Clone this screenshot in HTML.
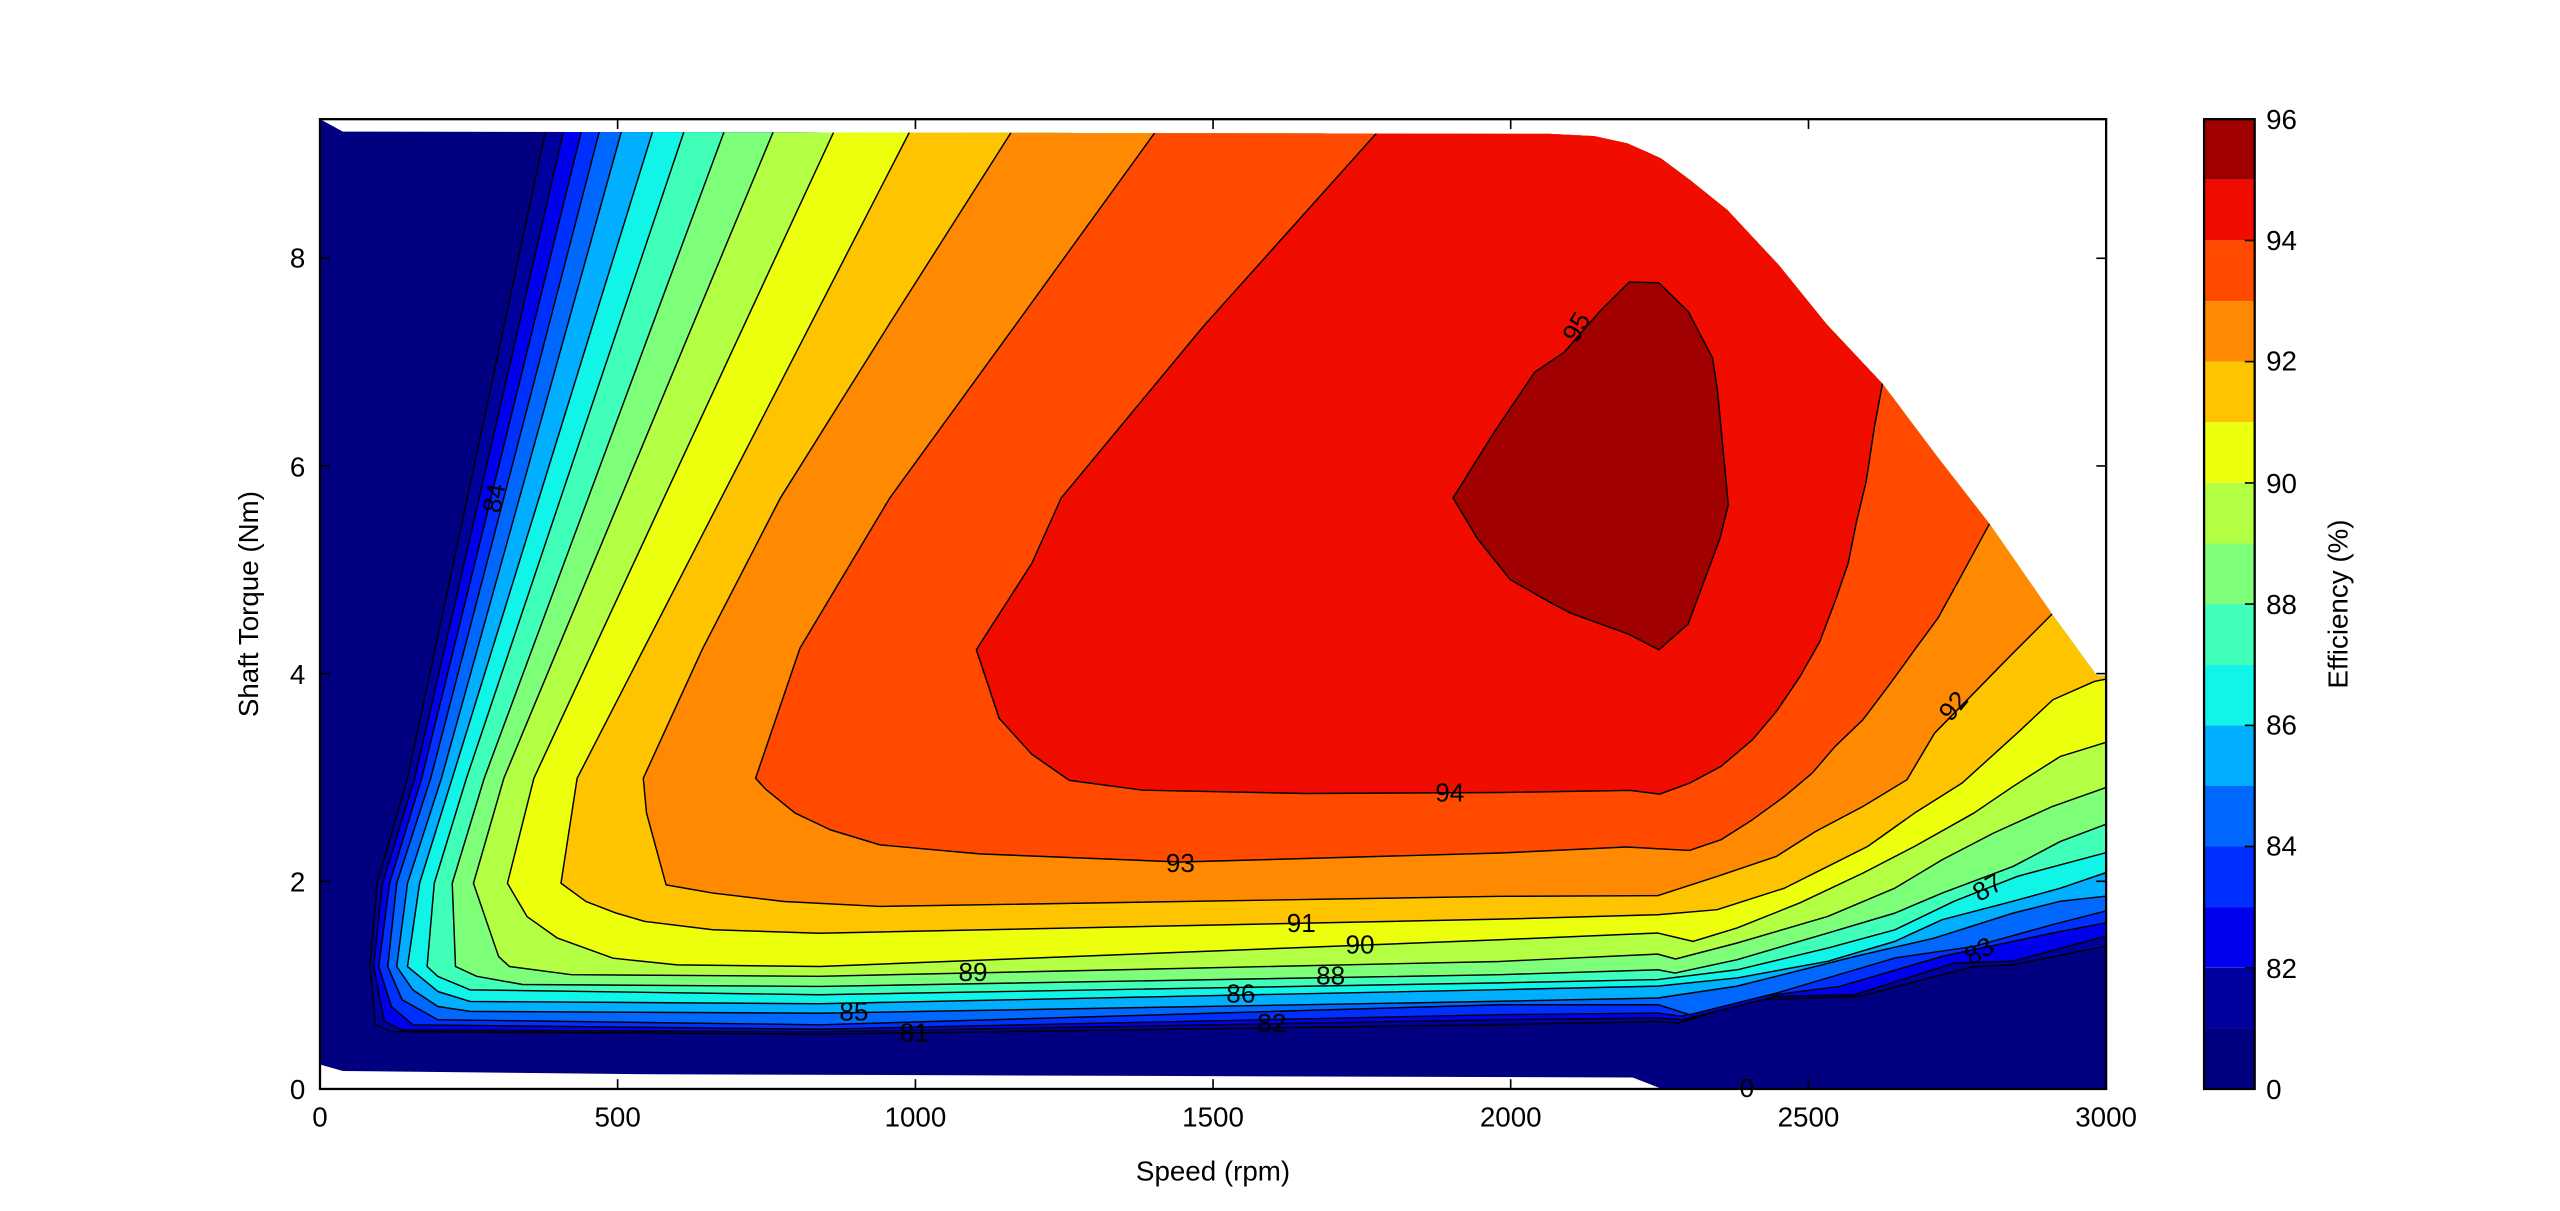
<!DOCTYPE html>
<html><head><meta charset="utf-8"><style>
html,body{margin:0;padding:0;background:#fff;}
svg{display:block;}
text{font-family:"Liberation Sans",sans-serif;}
</style></head><body>
<svg xmlns="http://www.w3.org/2000/svg" width="2560" height="1211" viewBox="0 0 1568 741.75" preserveAspectRatio="none">
<defs>
<clipPath id="dom"><polygon points="196,73 210,80.6 949,82 976.4,83.4 996.8,87.8 1017.2,96.9 1035.3,110.4 1058,128.6 1089.6,162.5 1119,198.8 1153,235 1187,280.3 1218.7,321 1257.2,376.6 1284.4,414 1290,414 1290,667 1018,667 1000,660 400,658 210,656 196,652"/></clipPath>
</defs>
<rect x="0" y="0" width="1568" height="741.75" fill="#fff"/>
<g clip-path="url(#dom)" stroke="#000" stroke-width="0.9" stroke-linejoin="round">
<rect x="190" y="60" width="1110" height="620" fill="#000080" stroke="none"/>
<polygon fill="#00009f" points="334,81 249.6,476.7 231,541 226.6,592 229.9,627.7 239.7,631.8 502,633.4 918.6,627.6 1015.4,625.6 1027.5,626.6 1076,612.3 1139,610.3 1209,592 1233,590.9 1289,579.7 1300,578 1300,70 334,70"/>
<polygon fill="#0000ef" points="345,81 254,476.7 234.3,541 228.8,592 235.4,625.7 246.3,630.8 502,632 918.6,624.6 1015.4,623.5 1030,624.6 1088,610.3 1136,609.3 1197,589.9 1233,588.8 1289,573.5 1300,571 1300,70 345,70"/>
<polygon fill="#0030ff" points="356,81 258.3,476.7 238.6,541 232,592 239.7,616.5 252.9,627.7 502,630.4 918.6,621.5 1015.4,620.5 1030,622.5 1064,612.3 1126.7,604.2 1189.6,585.8 1257,571.5 1289,565.4 1300,563 1300,70 356,70"/>
<polygon fill="#0068ff" points="367,81 263.8,476.7 243,541 237.5,592 246.3,612.4 268.2,624.6 502,627.7 918.6,615.4 1015.4,615.4 1035,621.5 1088,608.3 1160.6,586.8 1209,579.7 1257,566.4 1289,558.2 1300,556 1300,70 367,70"/>
<polygon fill="#00afff" points="380.5,81 270.4,476.7 249.6,541 243,592 252.9,606.3 268.2,616.5 287.9,619.5 502,620.6 918.6,613.3 1015.4,611.3 1064,604 1136.4,585.8 1184.8,574.6 1233,559.3 1262,552 1289,549 1300,547 1300,70 380.5,70"/>
<polygon fill="#10f5e8" points="399.6,81 277,476.7 257,541 249.6,592 268.2,607.3 287.9,613.4 502,614.8 918.6,606.2 1015.4,604 1064,599 1119.5,588.8 1160.6,576.6 1189.6,563.3 1233,552 1262,544 1289,534.8 1300,532 1300,70 399.6,70"/>
<polygon fill="#40ffb8" points="418.8,81 285.7,476.7 266,541 261.6,592 268.2,598.1 287.9,606.3 502,609.3 918.6,602 1015.4,600 1064,594 1119.5,580.7 1160.6,569.5 1197,552 1235.6,536.8 1262,529.7 1289,522.5 1300,520 1300,70 418.8,70"/>
<polygon fill="#7dff7a" points="443.4,81 296.6,476.7 277,541 279,592 292,598 320,603 502,604.2 918.6,597 1015.4,594 1026,596 1064,587.8 1119.5,571.5 1160.6,559.3 1189.6,547 1233,530.7 1262,515.4 1289,505.2 1300,502 1300,70 443.4,70"/>
<polygon fill="#b3ff44" points="473.5,81 308.6,476.7 290,541 305.4,585.9 312,592 350,597 502,598 918.6,588.9 1015.4,584.4 1026.3,587.4 1064,577.6 1119.5,561.3 1160.6,544 1189.6,526.6 1221,510.3 1257,494 1289,482.7 1300,479 1300,70 473.5,70"/>
<polygon fill="#ecff0c" points="510.6,81 327,476.7 310.8,541 322.8,561.4 341.4,574.6 375.5,586.9 414.7,591 502,592 918.6,575.6 1015.4,571.5 1037,576.6 1064,568.4 1102.5,553 1141,534.8 1172.7,518.4 1209,498 1233,481.7 1262,463.3 1289,455 1300,452 1300,70 510.6,70"/>
<polygon fill="#ffc400" points="557,81 353.5,476.7 343.6,541 359,552.2 377.5,559.3 395,564.4 436.6,569.5 502,571.6 918.6,563 1015.4,560.3 1051.7,557.2 1093,544 1119.5,530.7 1144,518.4 1172.7,498 1201.7,479.7 1235.6,449 1257.4,428.6 1282.8,417.4 1300,414 1300,70 557,70"/>
<polygon fill="#ff8900" points="619.4,81 545,198 478,305 430,398 394,476.7 396,498 408,542 436.6,547 480.3,552.2 539,555.2 918.6,549 1015.4,548.6 1051.7,536.8 1088,524.6 1112,509.3 1141,494 1168,477.6 1185,449 1209,424.5 1231,402 1257,376 1270,365 1300,365 1300,70 619.4,70"/>
<polygon fill="#ff4a00" points="707.5,81 625,195 545,305 490,397 462.8,476.7 469.4,483.8 487,498 508.7,508.3 539,517.5 600,523 723,528 918.6,522.5 996,518.8 1034.8,520.9 1054,514.4 1073.5,502 1093,487.8 1110,473.5 1124,457.2 1141,440.9 1158,418.4 1172.7,398 1187,378.6 1200,355 1219,320 1230,310 1300,310 1300,70 707.5,70"/>
<polygon fill="#f00d00" points="843.6,81 737,200 650,305 632,345 598,398 612,440 632,462 655,478 700,484 800,486 918.6,485.4 998.5,484.1 1016.6,486.4 1034.8,479.7 1054,469.5 1073.5,453 1088,435.8 1102.5,414.4 1114.6,393 1124.3,367.4 1132,345 1137,320 1143,295 1148,262 1153,235 1165,225 1300,225 1300,70 843.6,70"/>
<polygon fill="#a00000" points="998,172.7 1016,173.2 1034,190.8 1048.9,219.2 1052,239.5 1058.6,309.3 1053.4,330 1034,382.2 1016,398 998,388.6 961.7,375.4 949,368.7 925,355 905,330 890,305 915,265 940,228 958,215.8 979.8,190.8"/>
</g>
<g font-size="16" fill="#000" text-anchor="middle">
<text x="302" y="311" transform="rotate(-80 302 305)">84</text>
<text x="965" y="206" transform="rotate(-60 965 200)">95</text>
<text x="888" y="491">94</text>
<text x="723" y="534">93</text>
<text x="1196" y="438" transform="rotate(-50 1196 432)">92</text>
<text x="797" y="571">91</text>
<text x="833" y="584">90</text>
<text x="596" y="601">89</text>
<text x="815" y="603">88</text>
<text x="1217" y="549" transform="rotate(-30 1217 543)">87</text>
<text x="760" y="614">86</text>
<text x="523" y="625">85</text>
<text x="1212" y="588" transform="rotate(-30 1212 582)">83</text>
<text x="779" y="632">82</text>
<text x="560" y="638">81</text>
<text x="1070" y="672">0</text>
</g>
<rect x="196" y="73" width="1094" height="594" fill="none" stroke="#000" stroke-width="1.4"/>
<g stroke="#000" stroke-width="1">
<line x1="378.3" y1="667" x2="378.3" y2="661"/><line x1="378.3" y1="73" x2="378.3" y2="79"/>
<line x1="560.7" y1="667" x2="560.7" y2="661"/><line x1="560.7" y1="73" x2="560.7" y2="79"/>
<line x1="743" y1="667" x2="743" y2="661"/><line x1="743" y1="73" x2="743" y2="79"/>
<line x1="925.3" y1="667" x2="925.3" y2="661"/><line x1="925.3" y1="73" x2="925.3" y2="79"/>
<line x1="1107.7" y1="667" x2="1107.7" y2="661"/><line x1="1107.7" y1="73" x2="1107.7" y2="79"/>
<line x1="196" y1="539.8" x2="202" y2="539.8"/><line x1="1290" y1="539.8" x2="1284" y2="539.8"/>
<line x1="196" y1="412.6" x2="202" y2="412.6"/><line x1="1290" y1="412.6" x2="1284" y2="412.6"/>
<line x1="196" y1="285.4" x2="202" y2="285.4"/><line x1="1290" y1="285.4" x2="1284" y2="285.4"/>
<line x1="196" y1="158.2" x2="202" y2="158.2"/><line x1="1290" y1="158.2" x2="1284" y2="158.2"/>
</g>
<g font-size="17" fill="#000" text-anchor="middle">
<text x="196" y="690">0</text>
<text x="378.3" y="690">500</text>
<text x="560.7" y="690">1000</text>
<text x="743" y="690">1500</text>
<text x="925.3" y="690">2000</text>
<text x="1107.7" y="690">2500</text>
<text x="1290" y="690">3000</text>
</g>
<g font-size="17" fill="#000" text-anchor="end">
<text x="187" y="673">0</text>
<text x="187" y="546">2</text>
<text x="187" y="419">4</text>
<text x="187" y="292">6</text>
<text x="187" y="164">8</text>
</g>
<text x="743" y="723" font-size="17" text-anchor="middle">Speed  (rpm)</text>
<text x="158" y="370" font-size="17" text-anchor="middle" transform="rotate(-90 158 370)">Shaft Torque  (Nm)</text>
<g>
<rect x="1350" y="73" width="31" height="37.13" fill="#a00000"/>
<rect x="1350" y="110.1" width="31" height="37.13" fill="#f00d00"/>
<rect x="1350" y="147.3" width="31" height="37.13" fill="#ff4a00"/>
<rect x="1350" y="184.4" width="31" height="37.13" fill="#ff8900"/>
<rect x="1350" y="221.5" width="31" height="37.13" fill="#ffc400"/>
<rect x="1350" y="258.6" width="31" height="37.13" fill="#ecff0c"/>
<rect x="1350" y="295.8" width="31" height="37.13" fill="#b3ff44"/>
<rect x="1350" y="332.9" width="31" height="37.13" fill="#7dff7a"/>
<rect x="1350" y="370" width="31" height="37.13" fill="#40ffb8"/>
<rect x="1350" y="407.1" width="31" height="37.13" fill="#10f5e8"/>
<rect x="1350" y="444.3" width="31" height="37.13" fill="#00afff"/>
<rect x="1350" y="481.4" width="31" height="37.13" fill="#0068ff"/>
<rect x="1350" y="518.5" width="31" height="37.13" fill="#0030ff"/>
<rect x="1350" y="555.6" width="31" height="37.13" fill="#0000ef"/>
<rect x="1350" y="592.8" width="31" height="37.13" fill="#00009f"/>
<rect x="1350" y="629.9" width="31" height="37.13" fill="#000080"/>
<rect x="1350" y="73" width="31" height="594" fill="none" stroke="#000" stroke-width="1.4"/>
<g stroke="#000" stroke-width="1">
<line x1="1381" y1="147.3" x2="1375" y2="147.3"/>
<line x1="1381" y1="221.5" x2="1375" y2="221.5"/>
<line x1="1381" y1="295.8" x2="1375" y2="295.8"/>
<line x1="1381" y1="370" x2="1375" y2="370"/>
<line x1="1381" y1="444.3" x2="1375" y2="444.3"/>
<line x1="1381" y1="518.5" x2="1375" y2="518.5"/>
<line x1="1381" y1="592.8" x2="1375" y2="592.8"/>
</g>
<g font-size="17" fill="#000">
<text x="1388" y="79">96</text>
<text x="1388" y="153">94</text>
<text x="1388" y="227">92</text>
<text x="1388" y="302">90</text>
<text x="1388" y="376">88</text>
<text x="1388" y="450">86</text>
<text x="1388" y="524">84</text>
<text x="1388" y="599">82</text>
<text x="1388" y="673">0</text>
</g>
<text x="1438" y="370" font-size="17" text-anchor="middle" transform="rotate(-90 1438 370)">Efficiency (%)</text>
</g>
</svg>
</body></html>
